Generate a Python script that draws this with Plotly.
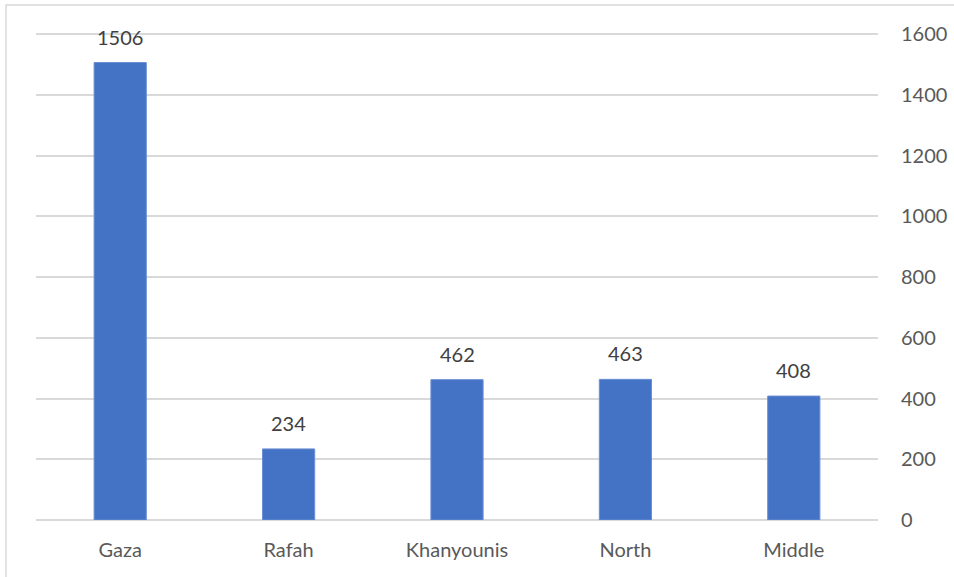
import plotly.graph_objects as go

categories = ["Gaza", "Rafah", "Khanyounis", "North", "Middle"]
values = [1506, 234, 462, 463, 408]
tick_vals = [0, 200, 400, 600, 800, 1000, 1200, 1400, 1600]

W, H = 954, 577
ml, mr, mt, mb = 36, 76, 28, 57
pw = W - ml - mr
ph = H - mt - mb
y_max = ph / (486 / 1600)

fig = go.Figure()
fig.add_trace(go.Bar(
    x=categories, y=values,
    marker=dict(color="#4472C4", line=dict(color="#6a8fd4", width=1)),
    width=0.31,
))

for c, v in zip(categories, values):
    fig.add_annotation(x=c, y=v, text=str(v), showarrow=False,
                       yanchor="bottom", yshift=12,
                       font=dict(family="Lato", size=20, color="#404040"))

# outer chart border
fig.add_shape(type="rect", xref="paper", yref="paper",
              x0=(6 - ml) / pw, x1=1.3, y0=-0.3, y1=1 + (mt - 5) / ph,
              line=dict(color="#D9D9D9", width=1.5), fillcolor="rgba(0,0,0,0)",
              layer="below")

fig.update_layout(
    width=W, height=H,
    margin=dict(l=ml, r=mr, t=mt, b=mb, autoexpand=False),
    plot_bgcolor="white", paper_bgcolor="white",
    showlegend=False,
    font=dict(family="Lato", size=20, color="#595959"),
    xaxis=dict(showgrid=False, showline=False, ticks="",
               tickfont=dict(family="Lato", size=20, color="#595959"),
               ticklabelstandoff=16),
    yaxis=dict(side="right", range=[0, y_max], tickvals=tick_vals,
               showgrid=True, gridcolor="#D9D9D9", gridwidth=1.5,
               zeroline=True, zerolinecolor="#D9D9D9", zerolinewidth=1.5,
               showline=False, ticks="",
               tickfont=dict(family="Lato", size=20, color="#595959"),
               ticklabelstandoff=22),
)

fig.write_html("out.html", config={"displayModeBar": False},
               post_script="document.body.style.margin='0';")
